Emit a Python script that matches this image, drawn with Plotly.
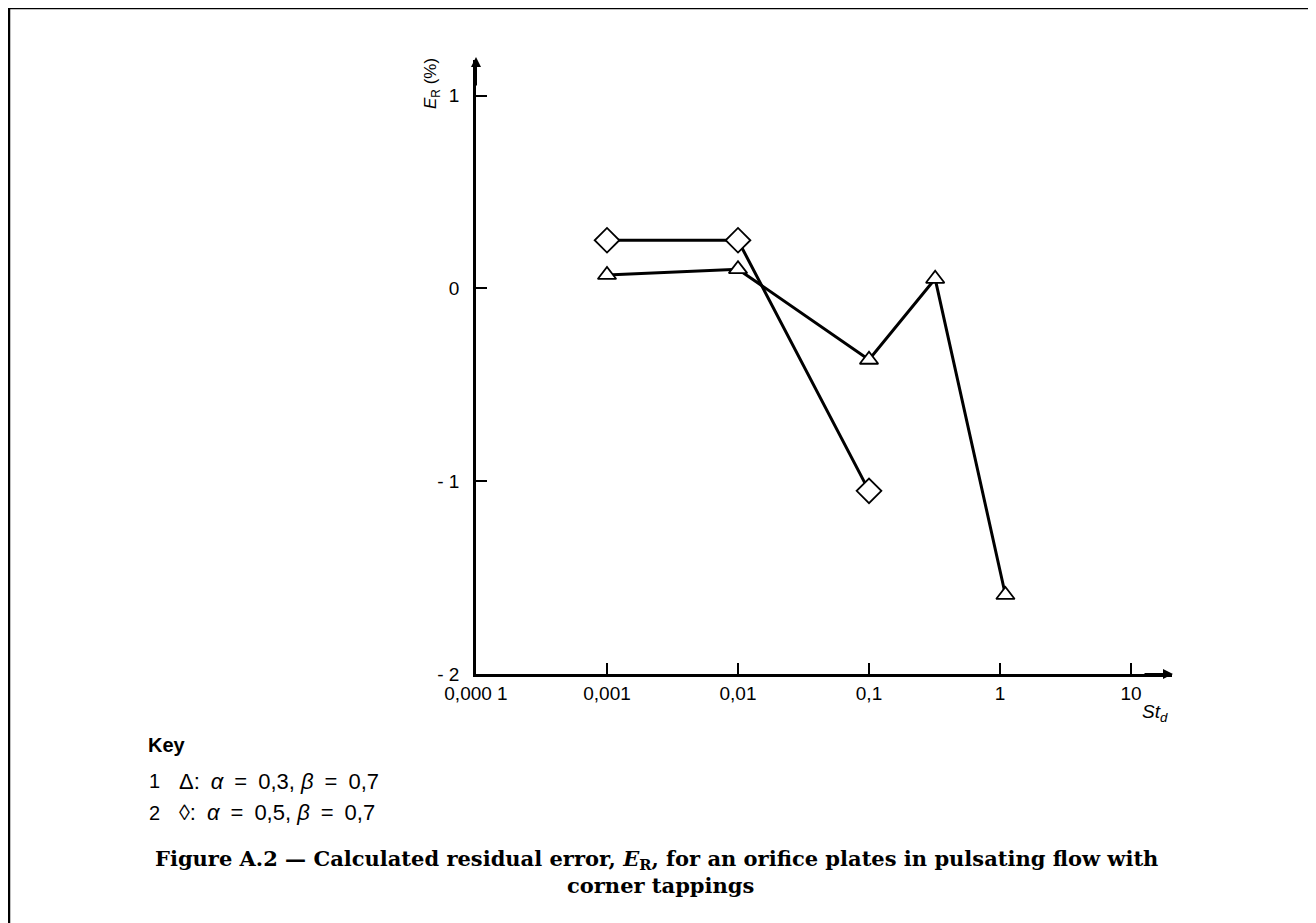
import plotly.graph_objects as go

# ---- data ----
st_tri = [0.001, 0.01, 0.1, 0.32, 1.1]
er_tri = [0.07, 0.10, -0.37, 0.05, -1.59]
st_dia = [0.001, 0.01, 0.1]
er_dia = [0.25, 0.25, -1.05]

x_tickvals = [0.0001, 0.001, 0.01, 0.1, 1, 10]
x_ticktext = ["0,000 1", "0,001", "0,01", "0,1", "1", "10"]
y_tickvals = [1, 0, -1, -2]
y_ticktext = ["1", "0", "- 1", "- 2"]

OFF = 8  # page body margin
W, H = 1316 - OFF, 923 - OFF
# plot area in screenshot pixels
SL, SR, ST, SB = 476, 1172, 60, 674
L, R, T, B = SL - OFF, SR - OFF, ST - OFF, SB - OFF

def px(x):
    return (x - SL) / (SR - SL)

def py(y):
    return (SB - y) / (SB - ST)

fig = go.Figure()
fig.add_trace(go.Scatter(
    x=st_dia, y=er_dia, mode="lines+markers",
    line=dict(color="black", width=3),
    marker=dict(symbol="diamond", size=19, color="white",
                line=dict(color="black", width=1.8)),
    showlegend=False))
fig.add_trace(go.Scatter(
    x=st_tri, y=er_tri, mode="lines+markers",
    line=dict(color="black", width=3),
    marker=dict(symbol="triangle-up", size=16, color="white",
                line=dict(color="black", width=1.8)),
    showlegend=False))

SANS = "Liberation Sans, Arial, sans-serif"
axfont = dict(family=SANS, size=19, color="black")
fig.update_xaxes(type="log", range=[-4, 1.313], tickvals=x_tickvals, ticktext=x_ticktext,
                 showgrid=False, zeroline=False, showline=True, linecolor="black", linewidth=2.5,
                 ticks="inside", ticklen=11, tickwidth=1.5, tickcolor="black",
                 tickfont=axfont)
fig.update_yaxes(range=[-2, 1.185], tickvals=y_tickvals, ticktext=y_ticktext,
                 showgrid=False, zeroline=False, showline=True, linecolor="black", linewidth=2.5,
                 ticks="inside", ticklen=11, tickwidth=1.5, tickcolor="black",
                 tickfont=axfont, ticklabelstandoff=10)

def txt(x, y, text, size=20, family=SANS, xanchor="left", angle=0):
    return dict(x=px(x), y=py(y), xref="paper", yref="paper", showarrow=False,
                xanchor=xanchor, yanchor="middle", textangle=angle, text=text,
                font=dict(family=family, size=size, color="black"))

EN = "\u2002"
SERIF = "DejaVu Serif, serif"
annotations = [
    # axis arrows
    dict(x=px(1173), y=0, xref="paper", yref="paper", ax=-30, ay=0, showarrow=True,
         arrowhead=2, arrowsize=1, arrowwidth=2, arrowcolor="black", text=""),
    dict(x=0, y=py(57), xref="paper", yref="paper", ax=0, ay=30, showarrow=True,
         arrowhead=2, arrowsize=1, arrowwidth=2, arrowcolor="black", text=""),
    # axis titles
    txt(432, 84, "<i>E</i><sub>R</sub> (%)", size=17, xanchor="center", angle=-90),
    txt(1155, 713, "<i>St</i><sub><i>d</i></sub>", size=19, xanchor="center"),
    # key
    txt(146, 745, "<b>Key</b>", size=20),
    txt(147, 781, "1", size=20),
    txt(177, 781, f"Δ:{EN}<i>α</i>{EN}={EN}0,3, <i>β</i>{EN}={EN}0,7", size=22),
    txt(147, 813, "2", size=20),
    txt(177, 813, f"◊:{EN}<i>α</i>{EN}={EN}0,5, <i>β</i>{EN}={EN}0,7", size=22),
    # caption
    txt(656, 859, "<b>Figure A.2 — Calculated residual error, <i>E</i><sub>R</sub>, for an orifice plates in pulsating flow with</b>",
        size=21, family=SERIF, xanchor="center"),
    txt(660, 885, "<b>corner tappings</b>", size=21, family=SERIF, xanchor="center"),
]

shapes = [
    dict(type="path", xref="paper", yref="paper",
         path=f"M {px(9)},{py(935)} L {px(9)},{py(8)} L {px(1311)},{py(8)} L {px(1311)},{py(935)}",
         line=dict(color="black", width=2.5)),
]

fig.update_layout(width=W, height=H, margin=dict(l=L, r=W - R, t=T, b=H - B),
                  paper_bgcolor="white", plot_bgcolor="white",
                  annotations=annotations, shapes=shapes)

fig.write_html("out.html")
